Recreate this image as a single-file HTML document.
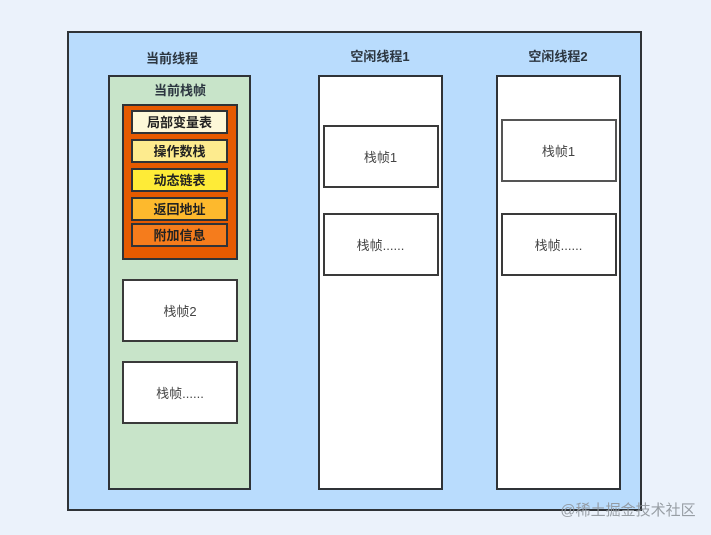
<!DOCTYPE html>
<html lang="zh">
<head>
<meta charset="utf-8">
<style>
html,body{margin:0;padding:0;}
body{width:711px;height:535px;overflow:hidden;background:#ebf2fb;position:relative;font-family:"Liberation Sans","Noto Sans CJK SC",sans-serif;color:#333;}
.b{position:absolute;box-sizing:border-box;border:2px solid #2f3337;display:flex;align-items:center;justify-content:center;white-space:nowrap;}
.t{position:absolute;white-space:nowrap;text-align:center;transform:translateX(-50%);line-height:16px;}
.h{font-size:13px;font-weight:bold;color:#2c3640;}
.f{background:#fff;font-size:13px;color:#444;border-color:#3a3a3a;}
.s{font-size:13px;font-weight:bold;color:#222;padding-bottom:2px;}
</style>
</head>
<body>
<div class="b" style="left:67px;top:31px;width:575px;height:480px;background:#b9dcfd;"></div>

<div class="t h" style="left:172px;top:51px;">当前线程</div>
<div class="t h" style="left:380px;top:49px;">空闲线程1</div>
<div class="t h" style="left:558px;top:49px;">空闲线程2</div>

<div class="b" style="left:108px;top:75px;width:143px;height:415px;background:#c8e4c9;"></div>
<div class="t h" style="left:180px;top:83px;">当前栈帧</div>

<div class="b" style="left:122px;top:104px;width:116px;height:156px;background:#e65a00;"></div>
<div class="b s" style="left:131px;top:110px;width:97px;height:24px;background:#fdf8d8;">局部变量表</div>
<div class="b s" style="left:131px;top:139px;width:97px;height:24px;background:#fdeb8e;">操作数栈</div>
<div class="b s" style="left:131px;top:168px;width:97px;height:24px;background:#feeb37;">动态链表</div>
<div class="b s" style="left:131px;top:197px;width:97px;height:24px;background:#fdb92d;">返回地址</div>
<div class="b s" style="left:131px;top:223px;width:97px;height:24px;background:#f57c1c;">附加信息</div>

<div class="b f" style="left:122px;top:279px;width:116px;height:63px;">栈帧2</div>
<div class="b f" style="left:122px;top:361px;width:116px;height:63px;">栈帧......</div>

<div class="b" style="left:318px;top:75px;width:125px;height:415px;background:#fff;"></div>
<div class="b f" style="left:322.5px;top:125px;width:116px;height:63px;">栈帧1</div>
<div class="b f" style="left:322.5px;top:213px;width:116px;height:63px;">栈帧......</div>

<div class="b" style="left:496px;top:75px;width:125px;height:415px;background:#fff;"></div>
<div class="b f" style="left:500.5px;top:119px;width:116px;height:63px;border-color:#555;">栈帧1</div>
<div class="b f" style="left:500.5px;top:213px;width:116px;height:63px;">栈帧......</div>

<div class="t" style="left:628px;top:503px;font-size:15px;color:#8f959b;opacity:.9;">@稀土掘金技术社区</div>
</body>
</html>
